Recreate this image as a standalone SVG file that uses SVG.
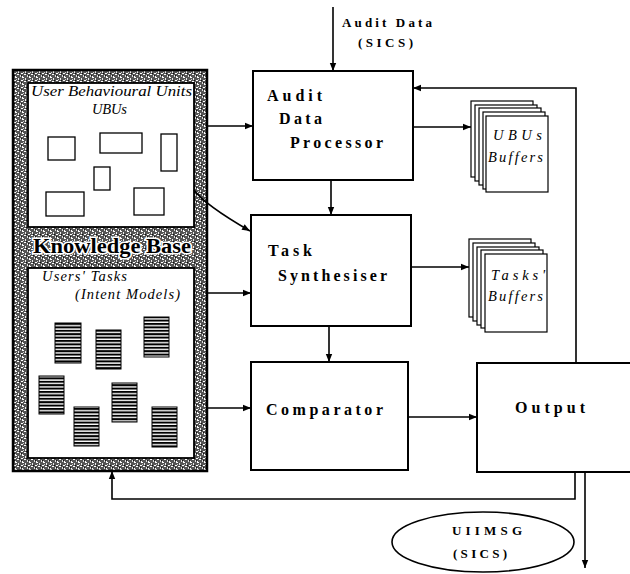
<svg xmlns="http://www.w3.org/2000/svg" width="630" height="574" viewBox="0 0 630 574">
<style>
.box{fill:#fff;stroke:#000;stroke-width:2}
.pnl{fill:#fff;stroke:#000;stroke-width:1.8}
.small{fill:#fff;stroke:#000;stroke-width:1.3}
.doc{fill:url(#stripes);stroke:#000;stroke-width:1}
.page{fill:#fff;stroke:#000;stroke-width:1.2}
.ln{fill:none;stroke:#000;stroke-width:1.6}
.arr{marker-end:url(#ah)}
.bt{font-family:"Liberation Serif",serif;font-weight:bold;font-size:16px;fill:#000}
.it{font-family:"Liberation Serif",serif;font-style:italic;font-size:14.5px;fill:#000}
.lbl{font-family:"Liberation Serif",serif;font-weight:bold;font-size:13px;fill:#000}
</style>
<defs>
<marker id="ah" viewBox="0 0 10 10" refX="10" refY="5" markerWidth="9" markerHeight="8" markerUnits="userSpaceOnUse" orient="auto"><path d="M0,1 L10,5 L0,9 z" fill="#000"/></marker>
<pattern id="stipple" width="7" height="7" patternUnits="userSpaceOnUse">
<rect width="7" height="7" fill="#555"/>
<rect x="1" y="0" width="2" height="1" fill="#fff"/>
<rect x="4" y="1" width="1" height="2" fill="#eee"/>
<rect x="0" y="3" width="2" height="1" fill="#fff"/>
<rect x="3" y="4" width="2" height="1" fill="#fff"/>
<rect x="6" y="5" width="1" height="2" fill="#ddd"/>
<rect x="2" y="2" width="1" height="1" fill="#ccc"/>
<rect x="1" y="6" width="1" height="1" fill="#fff"/>
<rect x="5" y="3" width="1" height="1" fill="#111"/>
<rect x="0" y="5" width="1" height="1" fill="#111"/>
</pattern>
<pattern id="stripes" width="4" height="3.4" patternUnits="userSpaceOnUse">
<rect width="4" height="3.4" fill="#fff"/>
<rect width="4" height="2" fill="#000"/>
</pattern>
</defs>

<g id="knowledge-base">
<rect x="13" y="70" width="194" height="401" fill="url(#stipple)" stroke="#000" stroke-width="2.5"/>
<text x="33" y="253" font-family="Liberation Serif,serif" font-weight="bold" font-size="20" fill="#000" stroke="#fff" stroke-width="3" paint-order="stroke" textLength="158" lengthAdjust="spacingAndGlyphs">Knowledge Base</text>
</g>

<g id="ubu-panel">
<rect class="pnl" x="28" y="83" width="166" height="144"/>
<text class="it" x="31" y="96" textLength="161" lengthAdjust="spacingAndGlyphs">User Behavioural Units</text>
<text class="it" x="92" y="114" textLength="35" lengthAdjust="spacing">UBUs</text>
<rect class="small" x="48" y="137" width="27" height="23"/>
<rect class="small" x="100" y="133" width="42" height="20"/>
<rect class="small" x="161" y="134" width="16" height="37"/>
<rect class="small" x="94" y="167" width="16" height="23"/>
<rect class="small" x="46" y="192" width="38" height="24"/>
<rect class="small" x="134" y="188" width="30" height="27"/>
</g>

<g id="tasks-panel">
<rect class="pnl" x="28" y="268" width="166" height="190"/>
<text class="it" x="42" y="281" textLength="85" lengthAdjust="spacing">Users' Tasks</text>
<text class="it" x="75" y="299" textLength="105" lengthAdjust="spacing">(Intent Models)</text>
<rect class="doc" x="55" y="323" width="26" height="40"/>
<rect class="doc" x="96" y="330" width="25" height="39"/>
<rect class="doc" x="144" y="317" width="25" height="40"/>
<rect class="doc" x="39" y="376" width="25" height="38"/>
<rect class="doc" x="112" y="383" width="25" height="39"/>
<rect class="doc" x="74" y="407" width="25" height="39"/>
<rect class="doc" x="152" y="407" width="25" height="40"/>
</g>

<g id="audit-data-processor">
<rect class="box" x="253" y="71" width="160" height="109"/>
<text class="bt" x="267" y="101" textLength="55" lengthAdjust="spacing">Audit</text>
<text class="bt" x="279" y="124" textLength="43" lengthAdjust="spacing">Data</text>
<text class="bt" x="290" y="148" textLength="93" lengthAdjust="spacing">Processor</text>
</g>

<g id="task-synthesiser">
<rect class="box" x="251" y="215" width="160" height="111"/>
<text class="bt" x="268" y="256" textLength="44" lengthAdjust="spacing">Task</text>
<text class="bt" x="278" y="281" textLength="109" lengthAdjust="spacing">Synthesiser</text>
</g>

<g id="comparator">
<rect class="box" x="251" y="362" width="157" height="108"/>
<text class="bt" x="266" y="415" font-size="17" textLength="117" lengthAdjust="spacing">Comparator</text>
</g>

<g id="output">
<rect class="box" x="477" y="363" width="160" height="109"/>
<text class="bt" x="515" y="413" font-size="17" textLength="70" lengthAdjust="spacing">Output</text>
</g>

<g id="ubus-buffers">
<rect class="page" x="471" y="101" width="62" height="76"/>
<rect class="page" x="475" y="105" width="62" height="76"/>
<rect class="page" x="479" y="108" width="62" height="77"/>
<rect class="page" x="483" y="112" width="62" height="77"/>
<rect class="page" x="486" y="116" width="62" height="76"/>
<text class="it" x="493" y="140" textLength="49" lengthAdjust="spacing">UBUs</text>
<text class="it" x="488" y="162" textLength="55" lengthAdjust="spacing">Buffers</text>
</g>

<g id="tasks-buffers">
<rect class="page" x="469" y="239" width="62" height="78"/>
<rect class="page" x="473" y="243" width="62" height="78"/>
<rect class="page" x="477" y="247" width="62" height="78"/>
<rect class="page" x="481" y="250" width="62" height="78"/>
<rect class="page" x="485" y="254" width="62" height="78"/>
<text class="it" x="491" y="280" textLength="54" lengthAdjust="spacing">Tasks'</text>
<text class="it" x="488" y="301" textLength="55" lengthAdjust="spacing">Buffers</text>
</g>

<g id="uiimsg">
<ellipse cx="483" cy="542" rx="91" ry="30" fill="#fff" stroke="#000" stroke-width="1.6"/>
<text class="lbl" x="452" y="535" font-size="15" textLength="70" lengthAdjust="spacing">UIIMSG</text>
<text class="lbl" x="453" y="558" font-size="15" textLength="54" lengthAdjust="spacing">(SICS)</text>
</g>

<g id="audit-data-label">
<text class="lbl" x="342" y="27" textLength="90" lengthAdjust="spacing">Audit Data</text>
<text class="lbl" x="358" y="47" textLength="55" lengthAdjust="spacing">(SICS)</text>
</g>

<g id="connectors">
<line class="ln arr" x1="333" y1="7" x2="333" y2="71"/>
<line class="ln arr" x1="207" y1="126" x2="253" y2="126"/>
<path class="ln arr" d="M194,190 Q205,205 250,231"/>
<line class="ln arr" x1="207" y1="293" x2="251" y2="293"/>
<line class="ln arr" x1="207" y1="408" x2="251" y2="408"/>
<line class="ln arr" x1="413" y1="127" x2="471" y2="127"/>
<line class="ln arr" x1="411" y1="267" x2="469" y2="267"/>
<line class="ln arr" x1="331" y1="180" x2="331" y2="215"/>
<line class="ln arr" x1="329" y1="326" x2="329" y2="362"/>
<line class="ln arr" x1="408" y1="417" x2="477" y2="417"/>
<polyline class="ln arr" points="576,363 576,88 413,88"/>
<polyline class="ln arr" points="575,472 575,499 112,499 112,471"/>
<line class="ln arr" x1="585" y1="472" x2="585" y2="568"/>
</g>
</svg>
